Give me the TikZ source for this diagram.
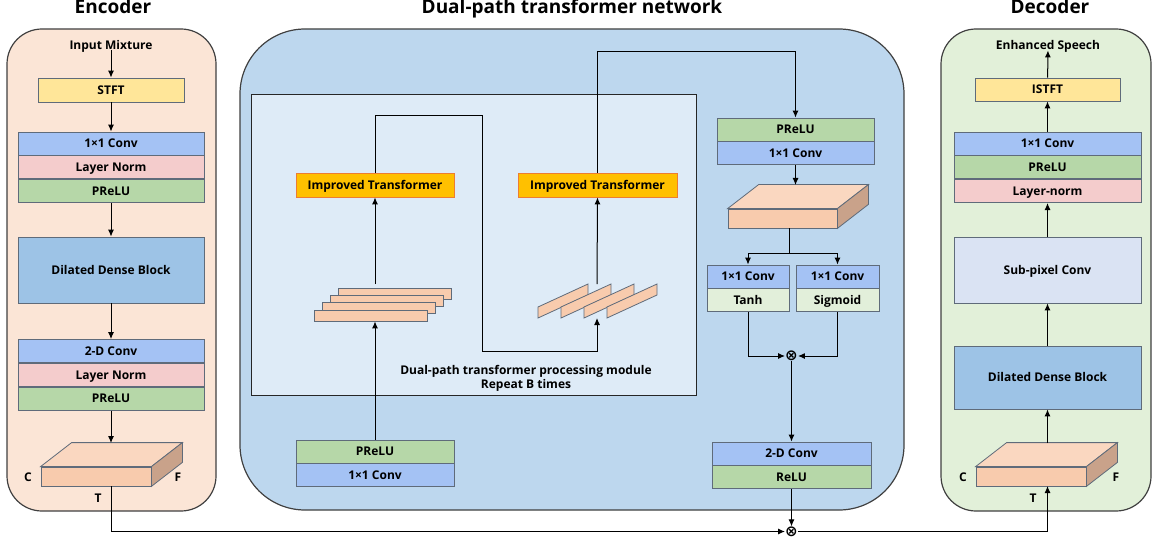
\documentclass[tikz,border=0pt]{standalone}
\usepackage{fontspec}
\setmainfont{Open Sans}
\newfontfamily\symfont{DejaVu Sans}
\usetikzlibrary{arrows.meta,calc,positioning}
\definecolor{encbg}{HTML}{FBE5D6}
\definecolor{netbg}{HTML}{BDD7EE}
\definecolor{modbg}{HTML}{DEEBF7}
\definecolor{decbg}{HTML}{E2F0D9}
\definecolor{stft}{HTML}{FFE699}
\definecolor{conv}{HTML}{A4C2F4}
\definecolor{norm}{HTML}{F4CCCC}
\definecolor{prelu}{HTML}{B6D7A8}
\definecolor{ddb}{HTML}{9DC3E6}
\definecolor{subpix}{HTML}{DAE3F3}
\definecolor{act}{HTML}{E2EFDA}
\definecolor{itfill}{HTML}{FFC000}
\definecolor{itline}{HTML}{ED7D31}
\definecolor{cubefront}{HTML}{F8CBAD}
\definecolor{cubetop}{HTML}{FAD7C0}
\definecolor{cubeside}{HTML}{C9A28A}
\definecolor{boxline}{HTML}{5F6B7A}
\definecolor{panelline}{HTML}{404040}
\tikzset{
    node distance=0pt,
    lbl/.style={inner sep=1pt, font=\bfseries\fontsize{12}{14}\selectfont, text height=8.5pt, text depth=0pt},
    box/.style={lbl, draw=boxline, line width=0.8pt, inner sep=0pt, minimum height=23pt},
    title/.style={font=\bfseries\fontsize{19}{22}\selectfont, inner sep=0pt, anchor=base},
    note/.style={font=\bfseries\fontsize{12}{14}\selectfont, align=center, inner sep=0pt},
    arr/.style={-{Latex[length=7pt,width=6pt]}, line width=1pt},
    ln/.style={line width=1pt},
    panel/.style={draw=panelline, line width=1.2pt, rounded corners=#1},
    cube/.style={draw=boxline, line width=0.8pt},
    prodsym/.style={inner sep=0pt, font=\symfont\bfseries\fontsize{15}{15}\selectfont}
}
\begin{document}
\begin{tikzpicture}[x=1pt, y=-1pt]
    \useasboundingbox (0,0) rectangle (1158,540);

    % panels
    \draw[panel=35, fill=encbg] (7,29) rectangle (216,511);
    \draw[panel=65, fill=netbg] (240,29) rectangle (904,510);
    \draw[panel=35, fill=decbg] (941,29) rectangle (1151,511);
    \draw[fill=modbg, draw=black!85, line width=1pt] (251,95) rectangle (696,395);

    \node[title] (tenc) at (113,14) {Encoder};
    \node[title] (tnet) at (572,14) {Dual-path transformer network};
    \node[title] (tdec) at (1050,14) {Decoder};

    % encoder
    \node (emix) at (111,45) [lbl] {Input Mixture};
    \node (estft) at (111,90) [box, minimum width=146pt, minimum height=24pt, fill=stft] {STFT};
    \node (e1) at (111,143.5) [box, minimum width=186pt, fill=conv] {1×1 Conv};
    \node (e2) [box, minimum width=186pt, fill=norm, below=of e1] {Layer Norm};
    \node (e3) [box, minimum width=186pt, fill=prelu, below=of e2] {PReLU};
    \node (eddb) at (111,270) [box, minimum width=186pt, minimum height=66pt, fill=ddb] {Dilated Dense Block};
    \node (e4) at (111,351) [box, minimum width=186pt, fill=conv] {2-D Conv};
    \node (e5) [box, minimum width=186pt, fill=norm, below=of e4] {Layer Norm};
    \node (e6) [box, minimum width=186pt, fill=prelu, below=of e5] {PReLU};
    \node (ecube) at (96,476.5) [box, minimum width=110pt, minimum height=19pt, fill=cubefront] {};
    \node (ec) at (28,477) [lbl] {C};
    \node (ef) at (178,477) [lbl] {F};
    \node (et) at (98,498) [lbl] {T};
    \coordinate (etop) at (111,443);
    \coordinate (eout) at (111,486);

    % dual-path network
    \foreach \i in {3,2,1,0}
        \node (bar\i) at (370.5+8*\i,315.5-7.3*\i) [cube, fill=cubefront, minimum width=113pt, minimum height=11pt, inner sep=0pt] {};
    \foreach \x in {538,561,584,607}
        \draw[cube, fill=cubefront] (\x,318) -- ++(0,-11) -- ++(50,-23) -- ++(0,11) -- cycle;
    \node (lit) at (375,185) [box, minimum width=158pt, minimum height=24pt, fill=itfill, draw=itline] {Improved Transformer};
    \node (rit) at (597.5,185) [box, minimum width=159pt, minimum height=24pt, fill=itfill, draw=itline] {Improved Transformer};
    \node (modtxt) at (526,378) [note] {Dual-path transformer processing module\\Repeat B times};
    \node (bprelu) at (375,451.5) [box, minimum width=158pt, fill=prelu] {PReLU};
    \node (bconv) [box, minimum width=158pt, fill=conv, below=of bprelu] {1×1 Conv};
    \coordinate (lin) at (375,284);
    \coordinate (k1) at (482,116);
    \coordinate (k2) at (597,351);
    \coordinate (pin) at (597,318);
    \coordinate (pout) at (597,284);
    \coordinate (k3) at (795.5,52);

    \node (mprelu) at (795.5,129.5) [box, minimum width=157pt, fill=prelu] {PReLU};
    \node (mconv) [box, minimum width=157pt, fill=conv, below=of mprelu] {1×1 Conv};
    \node (mcube) at (782.5,218.5) [box, minimum width=109pt, minimum height=19pt, fill=cubefront] {};
    \coordinate (mtop) at (795.5,185);
    \coordinate (sp) at (789,253);
    \node (tconv) at (748,276.5) [box, minimum width=82pt, fill=conv] {1×1 Conv};
    \node (tanh) [box, minimum width=82pt, fill=act, below=of tconv] {Tanh};
    \node (sconv) at (837.5,276.5) [box, minimum width=83pt, fill=conv] {1×1 Conv};
    \node (sig) [box, minimum width=83pt, fill=act, below=of sconv] {Sigmoid};
    \node (m1) at (791.5,356) [prodsym] {⊗};
    \node (dconv) at (791.5,453.5) [box, minimum width=159pt, fill=conv] {2-D Conv};
    \node (relu) [box, minimum width=159pt, fill=prelu, below=of dconv] {ReLU};
    \node (m2) at (791.5,531.5) [prodsym] {⊗};

    % decoder
    \node (dsp) at (1048,45) [lbl] {Enhanced Speech};
    \node (distft) at (1047.5,89.5) [box, minimum width=145pt, fill=stft] {ISTFT};
    \node (d1) at (1047.5,143.5) [box, minimum width=187pt, fill=conv] {1×1 Conv};
    \node (d2) [box, minimum width=187pt, fill=prelu, below=of d1] {PReLU};
    \node (d3) [box, minimum width=187pt, fill=norm, below=of d2] {Layer-norm};
    \node (dsub) at (1047.5,270) [box, minimum width=187pt, minimum height=66pt, fill=subpix] {Sub-pixel Conv};
    \node (dddb) at (1047.5,377.5) [box, minimum width=187pt, minimum height=63pt, fill=ddb] {Dilated Dense Block};
    \node (dcube) at (1031,476.5) [box, minimum width=110pt, minimum height=19pt, fill=cubefront] {};
    \node (dc) at (963,477) [lbl] {C};
    \node (df) at (1116,477) [lbl] {F};
    \node (dt) at (1033,498) [lbl] {T};
    \coordinate (dtop) at (1047.5,443);
    \coordinate (din) at (1047.5,486);

    \foreach \c in {ecube,mcube,dcube}{
        \draw[cube, fill=cubetop] (\c.north west) -- ++(31,-24) -- ($(\c.north east)+(31,-24)$) -- (\c.north east) -- cycle;
        \draw[cube, fill=cubeside] (\c.north east) -- ++(31,-24) -- ($(\c.south east)+(31,-24)$) -- (\c.south east) -- cycle;
    }

    % connectors
    \path[arr] (emix) edge (estft);
    \path[arr] (estft) edge (e1);
    \path[arr] (e3) edge (eddb);
    \path[arr] (eddb) edge (e4);
    \draw[arr] (e6.south) -- (etop);
    \draw[arr] (eout) |- (m2);

    \draw[arr] (bprelu.north) -- (bprelu.north |- bar0.south);
    \draw[arr] (lin) -- (lit.south);
    \draw[arr] (lit.north) |- (k1) |- (k2) -- (pin);
    \draw[arr] (pout) -- (rit.south);
    \draw[arr] (rit.north) |- (k3) -- (mprelu.north);
    \draw[arr] (mconv.south) -- (mtop);
    \draw[ln] (mcube.south -| sp) -- (sp);
    \draw[arr] (sp) -| (tconv.north);
    \draw[arr] (sp) -| (sconv.north);
    \draw[arr] (tanh.south) |- (m1);
    \draw[arr] (sig.south) |- (m1);
    \path[arr] (m1) edge (dconv);
    \path[arr] (relu) edge (m2);
    \draw[arr] (m2) -| (din);

    \draw[arr] (dtop) -- (dddb.south);
    \path[arr] (dddb) edge (dsub);
    \path[arr] (dsub) edge (d3);
    \path[arr] (d1) edge (distft);
    \path[arr] (distft) edge (dsp);
\end{tikzpicture}
\end{document}
